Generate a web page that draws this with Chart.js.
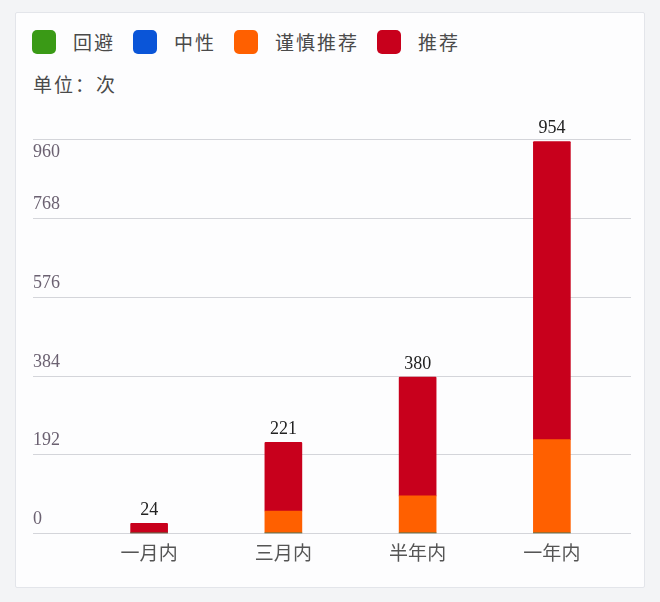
<!DOCTYPE html>
<html>
<head>
<meta charset="utf-8">
<script src="https://cdn.jsdelivr.net/npm/chart.js@4/dist/chart.umd.min.js"></script>
<style>
  html, body { margin: 0; padding: 0; }
  body { width: 660px; height: 602px; background: #f3f4f6; position: relative; overflow: hidden;
         font-family: "Noto Sans CJK SC", "Noto Sans", sans-serif; }
  .card { position: absolute; left: 15px; top: 12px; width: 628px; height: 574px;
          background: #fdfdfe; border: 1px solid #e3e5ea; border-radius: 2px; }
  .legend { position: absolute; left: 32px; top: 28px; display: flex; align-items: center;
            font-size: 19px; color: #4a4a4a; letter-spacing: 2px; }
  .legend span.box { display: inline-block; width: 24px; height: 24px; border-radius: 5px; margin-right: 17px; }
  .legend span.txt { margin-right: 18px; }
  .unit { position: absolute; left: 33px; top: 70px; font-size: 19px; color: #4a4a4a; letter-spacing: 2px; }
  #chart { position: absolute; left: 0; top: 0; }
</style>
</head>
<body>
<div class="card"></div>
<div class="legend" id="legend"></div>
<div class="unit">单位：次</div>
<canvas id="chart" width="660" height="602"></canvas>
<script>
// === Data ===
const categories = ['一月内', '三月内', '半年内', '一年内'];
const seriesNames = ['回避', '中性', '谨慎推荐', '推荐'];
const seriesColors = ['#3a9a16', '#0a55d8', '#ff6000', '#c8001c'];
const avoidValues = [0, 0, 0, 0];
const neutralValues = [0, 0, 0, 0];
const cautiousValues = [0, 54, 91, 228];
const recommendValues = [24, 167, 289, 726];
const yTicks = [0, 192, 384, 576, 768, 960];

const seriesValues = [avoidValues, neutralValues, cautiousValues, recommendValues];

// legend
document.getElementById('legend').innerHTML = seriesNames.map((name, i) => `
    <span class="box" style="background:${seriesColors[i]}"></span><span class="txt">${name}</span>
`).join('');

// gridlines + y labels drawn across the full card width
const gridPlugin = {
    id: 'gridPlugin',
    beforeDatasetsDraw(chart) {
        const ctx = chart.ctx;
        const y = chart.scales.y;
        const top = chart.chartArea.top;
        ctx.save();
        ctx.strokeStyle = '#d4d5da';
        ctx.lineWidth = 1;
        ctx.font = "18px 'Liberation Serif', serif";
        ctx.fillStyle = '#6b6171';
        ctx.textAlign = 'left';
        ctx.textBaseline = 'middle';
        yTicks.forEach(v => {
            const py = Math.round(y.getPixelForValue(v)) + 0.5;
            ctx.beginPath();
            ctx.moveTo(33, py);
            ctx.lineTo(631, py);
            ctx.stroke();
            let ly = py - 14;
            if (ly < top) ly = py + 13;
            ctx.fillText(String(v), 33, ly);
        });
        ctx.restore();
    }
};

// totals above the stacks
const totalPlugin = {
    id: 'totalPlugin',
    afterDatasetsDraw(chart) {
        const ctx = chart.ctx;
        const meta = chart.getDatasetMeta(seriesValues.length - 1);
        ctx.save();
        ctx.font = "18px 'Liberation Serif', serif";
        ctx.fillStyle = '#222';
        ctx.textAlign = 'center';
        ctx.textBaseline = 'alphabetic';
        categories.forEach((c, i) => {
            const total = seriesValues.reduce((s, arr) => s + arr[i], 0);
            const bar = meta.data[i];
            ctx.fillText(String(total), bar.x, chart.scales.y.getPixelForValue(total) - 8);
        });
        ctx.restore();
    }
};

new Chart(document.getElementById('chart'), {
    type: 'bar',
    data: {
        labels: categories,
        datasets: seriesNames.map((name, i) => ({
            label: name,
            data: seriesValues[i],
            backgroundColor: seriesColors[i],
            barThickness: 37,
            borderSkipped: 'bottom',
            borderRadius: 1
        }))
    },
    options: {
        responsive: false,
        animation: false,
        layout: { padding: { left: 82, right: 41, top: 139, bottom: 30 } },
        plugins: {
            legend: { display: false },
            tooltip: { enabled: false }
        },
        scales: {
            x: {
                stacked: true,
                grid: { display: false, drawTicks: false },
                border: { display: false },
                ticks: {
                    padding: 8,
                    color: '#555',
                    font: { family: "'Noto Sans CJK SC', sans-serif", size: 19 }
                }
            },
            y: {
                stacked: true,
                display: false,
                min: 0,
                max: 960
            }
        }
    },
    plugins: [gridPlugin, totalPlugin]
});
</script>
</body>
</html>
